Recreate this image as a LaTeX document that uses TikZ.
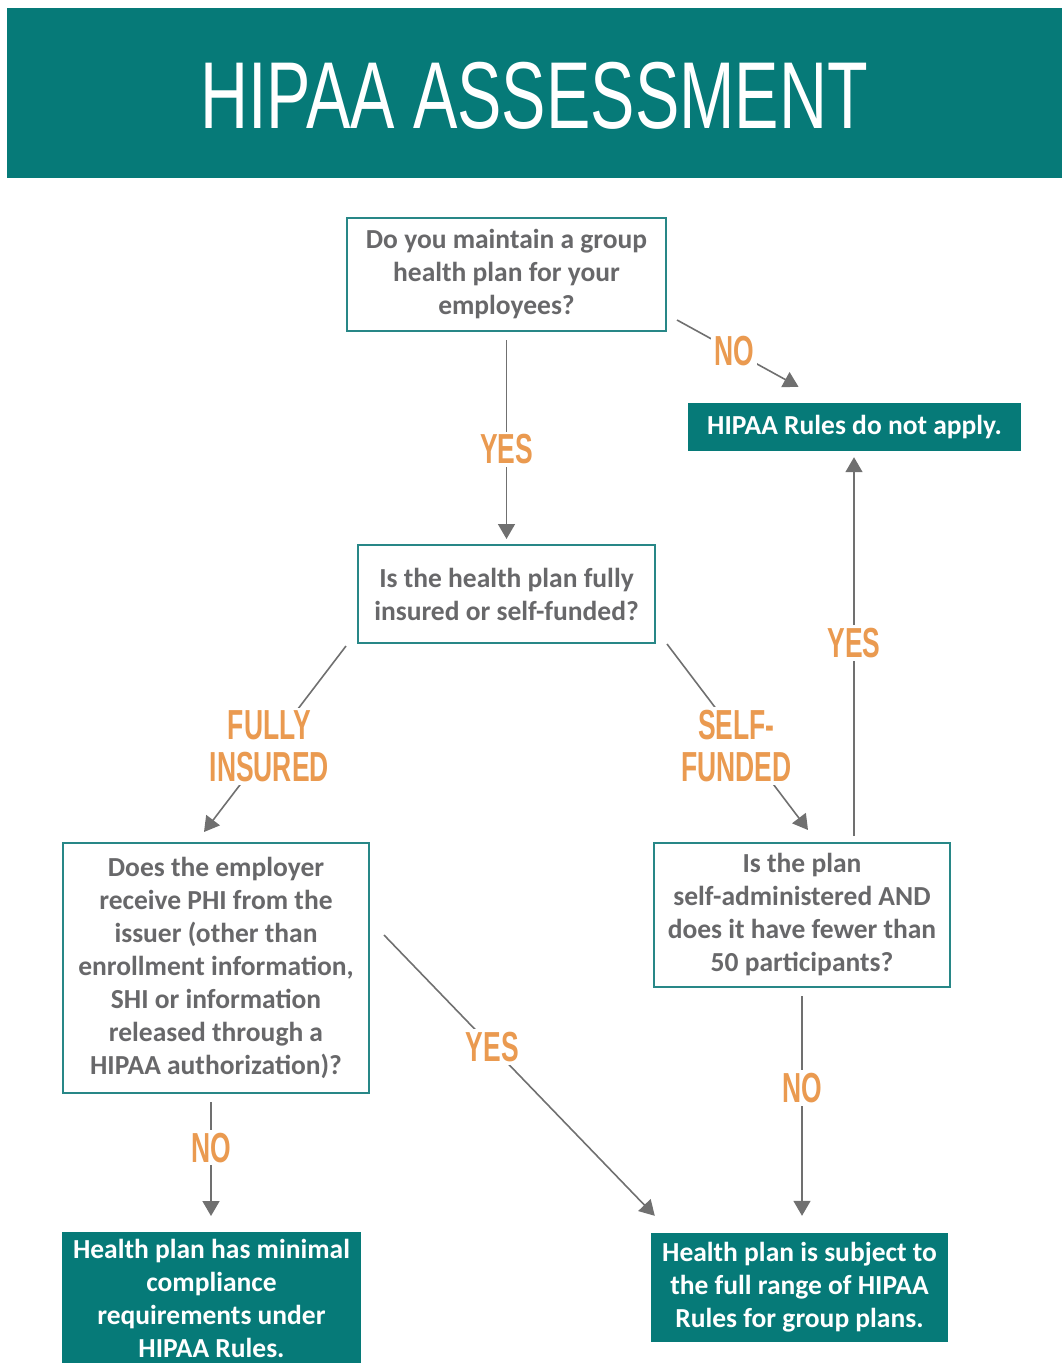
\documentclass[tikz,border=0pt]{standalone}
\usepackage{fontspec}
\setmainfont{Carlito}
\newfontfamily\condfont[FakeStretch=0.63]{Liberation Sans}
\newfontfamily\titlefont[FakeStretch=0.7]{Liberation Sans}
\usetikzlibrary{arrows.meta,calc}
\definecolor{teal1}{RGB}{6,122,120}
\definecolor{tealline}{RGB}{40,135,135}
\definecolor{txtgray}{RGB}{104,104,106}
\definecolor{linegray}{RGB}{112,112,112}
\definecolor{lblorange}{RGB}{234,154,80}
\tikzset{
 qbox/.style={draw=tealline, line width=2pt, fill=white, text=txtgray, align=center,
   font=\bfseries\fontsize{27.5}{33}\selectfont, inner sep=0pt},
 abox/.style={fill=teal1, text=white, align=center,
   font=\bfseries\fontsize{27.5}{33}\selectfont, inner sep=0pt},
 conn/.style={draw=linegray, line width=1.6pt, -{Triangle[length=15pt,width=17pt]}},
 lbl/.style={fill=white, text=lblorange, font=\condfont\bfseries\fontsize{42}{42}\selectfont,
   inner sep=3pt, align=center},
}
\begin{document}
\begin{tikzpicture}[x=1pt,y=-1pt]
\useasboundingbox (0,0) rectangle (1062,1363);
% title band
\node[fill=teal1, minimum width=1055pt, minimum height=170pt, anchor=north west, inner sep=0pt] (band) at (7,8) {};
\node[text=white, font=\titlefont\fontsize{95}{100}\selectfont, inner sep=0pt] (title) at (534,96) {HIPAA ASSESSMENT};

% boxes
\node[qbox, minimum width=319pt, minimum height=113pt] (q1) at (506.5,274.5)
  {Do you maintain a group\\health plan for your\\employees?};
\node[abox, minimum width=333pt, minimum height=48pt] (na) at (854.5,427)
  {HIPAA Rules do not apply.};
\node[qbox, minimum width=297pt, minimum height=98pt] (q2) at (506.5,594)
  {Is the health plan fully\\insured or self-funded?};
\node[qbox, minimum width=306pt, minimum height=250pt] (q3) at (216,968)
  {Does the employer\\receive PHI from the\\issuer (other than\\enrollment information,\\SHI or information\\released through a\\HIPAA authorization)?};
\node[qbox, minimum width=296pt, minimum height=144pt] (q4) at (802,915)
  {Is the plan\\self-administered AND\\does it have fewer than\\50 participants?};
\node[abox, minimum width=299pt, minimum height=133pt, anchor=north] (bl) at (211.5,1232)
  {Health plan has minimal\\compliance\\requirements under\\HIPAA Rules.};
\node[abox, minimum width=297pt, minimum height=109pt] (br) at (799.5,1287.5)
  {Health plan is subject to\\the full range of HIPAA\\Rules for group plans.};

% connectors
\draw[conn] ([yshift=-8pt]q1.south) -- node[lbl,pos=0.55]{YES} ([yshift=5pt]q2.north);
\draw[conn] ([xshift=10pt,yshift=12pt]q1.south east) -- node[lbl,pos=0.47]{NO} ([xshift=-56pt,yshift=16pt]na.north);
\draw[conn] ([xshift=-11pt,yshift=-2pt]q2.south west) -- node[lbl,pos=0.54]{FULLY\\INSURED} ([xshift=-12pt,yshift=10pt]q3.north);
\draw[conn] ([xshift=11pt,yshift=0pt]q2.south east) -- node[lbl,pos=0.55,xshift=-8pt]{SELF-\\FUNDED} ([xshift=6pt,yshift=12pt]q4.north);
\draw[conn] ([xshift=52pt,yshift=6pt]q4.north) -- node[lbl,pos=0.51]{YES} ([xshift=-0.5pt,yshift=-6pt]na.south);
\draw[conn] ([xshift=14pt,yshift=33pt]q3.east) -- node[lbl,pos=0.40]{YES} ([xshift=4pt,yshift=17pt]br.north west);
\draw[conn] ([xshift=-5pt,yshift=-8pt]q3.south) -- node[lbl,pos=0.40]{NO} ([xshift=-0.5pt,yshift=16pt]bl.north);
\draw[conn] ([yshift=-8pt]q4.south) -- node[lbl,pos=0.42]{NO} ([xshift=2.5pt,yshift=17pt]br.north);
\end{tikzpicture}
\end{document}
